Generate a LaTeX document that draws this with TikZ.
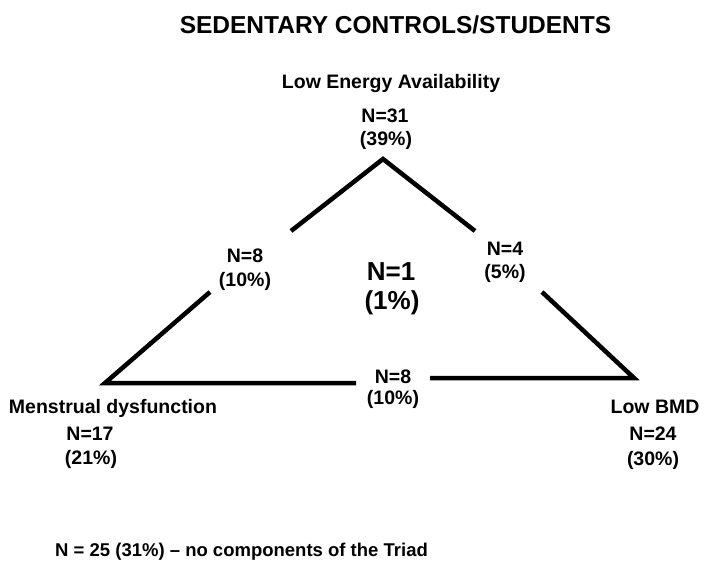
\documentclass[tikz,border=0pt]{standalone}
\usepackage{fontspec}
\setmainfont{Liberation Sans}
\begin{document}
\begin{tikzpicture}[x=1pt,y=-1pt,
  lbl/.style={anchor=base,inner sep=0pt,font=\fontsize{19.5}{23}\selectfont\bfseries},
  big/.style={anchor=base,inner sep=0pt,font=\fontsize{26}{30}\selectfont\bfseries},
  ttl/.style={anchor=base,inner sep=0pt,font=\fontsize{24.5}{28}\selectfont\bfseries},
  foot/.style={anchor=base west,inner sep=0pt,font=\fontsize{18.5}{22}\selectfont\bfseries},
  edge/.style={line width=4.5pt}]
\useasboundingbox (0,0) rectangle (706,573);
% title
\node[ttl] (title) at (395.5,33) {SEDENTARY CONTROLS/STUDENTS};
% top corner
\node[lbl] (lea) at (391,88) {Low Energy Availability};
\node[lbl] (leaN) at (385,122) {N=31};
\node[lbl] (leaP) at (386,145) {(39\%)};
% left corner
\node[lbl] (md) at (113,413) {Menstrual dysfunction};
\node[lbl] (mdN) at (90,440) {N=17};
\node[lbl] (mdP) at (91,464) {(21\%)};
% right corner
\node[lbl] (bmd) at (655,413) {Low BMD};
\node[lbl] (bmdN) at (653,440) {N=24};
\node[lbl] (bmdP) at (653,465) {(30\%)};
% edge labels
\node[lbl] (e1N) at (245,262) {N=8};
\node[lbl] (e1P) at (245,286) {(10\%)};
\node[lbl] (e2N) at (505,255) {N=4};
\node[lbl] (e2P) at (505,278) {(5\%)};
\node[lbl] (e3N) at (393,383) {N=8};
\node[lbl] (e3P) at (393,404) {(10\%)};
% centre
\node[big] (cN) at (391,280) {N=1};
\node[big] (cP) at (392,309) {(1\%)};
% footnote
\node[foot] (fn) at (55,556) {N = 25 (31\%) -- no components of the Triad};
% triangle
\coordinate (A) at (383,159);
\coordinate (LU) at (291,231);
\coordinate (RU) at (475,231);
\coordinate (LL) at (210,292);
\coordinate (BL) at (105,383);
\coordinate (BM1) at (356,383);
\coordinate (BM2) at (430,378);
\coordinate (BR) at (634,378);
\coordinate (RL) at (542,292);
\draw[edge] (LU) -- (A) -- (RU);
\draw[edge] (LL) -- (BL) -- (BM1);
\draw[edge] (BM2) -- (BR) -- (RL);
\end{tikzpicture}
\end{document}
